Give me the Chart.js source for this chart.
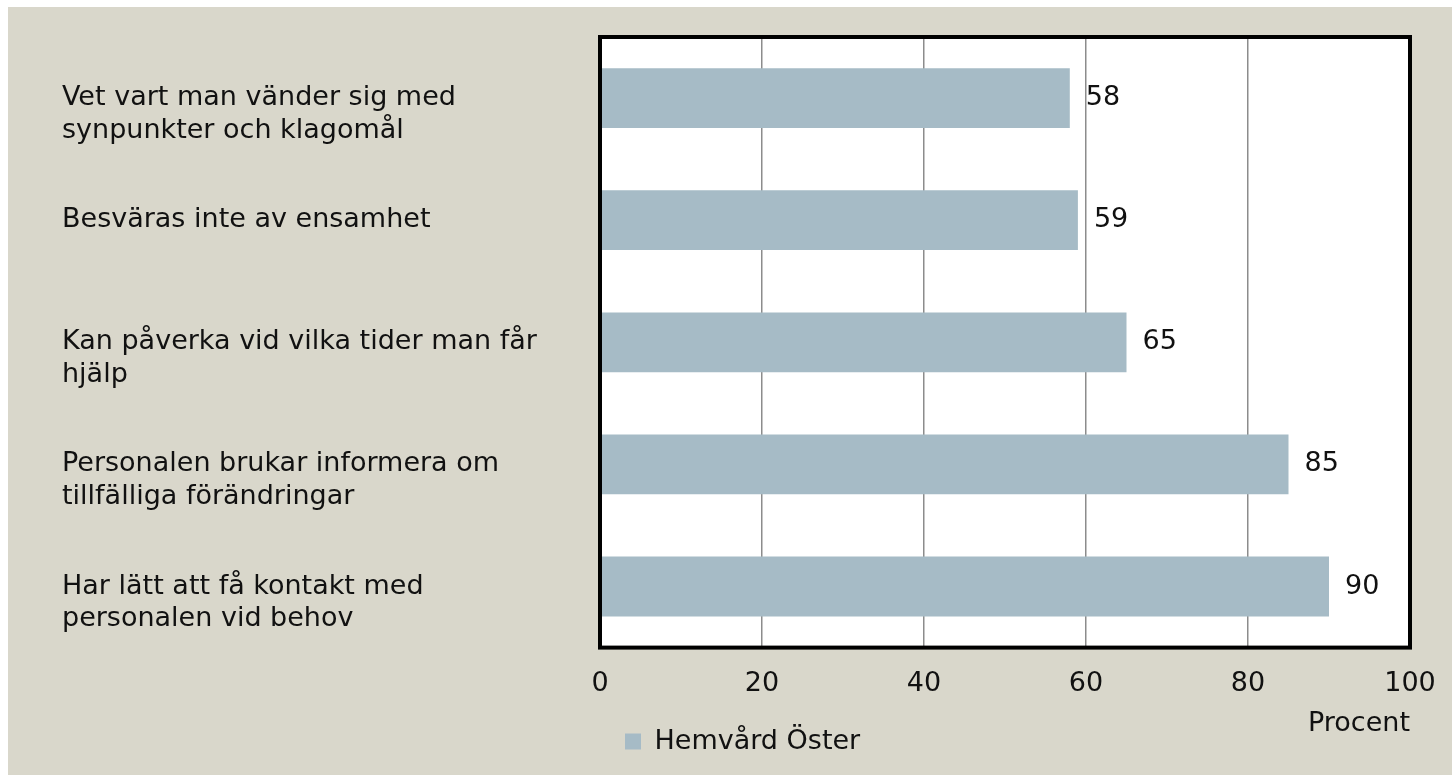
<!DOCTYPE html>
<html lang="sv">
<head>
<meta charset="utf-8">
<title>Hemvård Öster</title>
<script src="https://cdn.jsdelivr.net/npm/chart.js@4.4.1/dist/chart.umd.min.js"></script>
<style>
    html, body { margin: 0; padding: 0; background: #fff; overflow: hidden; }
    #ram { position: absolute; left: 8px; top: 7px; width: 1444px; height: 775px; background: #d9d7cb; }
</style>
</head>
<body>
<div id="ram"><canvas id="diagram"></canvas></div>
<script>
const kategorier = [
    ['Vet vart man vänder sig med', 'synpunkter och klagomål'],
    ['Besväras inte av ensamhet'],
    ['Kan påverka vid vilka tider man får', 'hjälp'],
    ['Personalen brukar informera om', 'tillfälliga förändringar'],
    ['Har lätt att få kontakt med', 'personalen vid behov']
];
const andelar = [58, 59, 65, 85, 90];
const serieNamn = 'Hemvård Öster';
const xSteg = [0, 20, 40, 60, 80, 100];
const xTitel = 'Procent';

const typsnitt = '"DejaVu Sans", sans-serif';
Chart.defaults.font.family = typsnitt;
Chart.defaults.font.size = 27;
Chart.defaults.color = '#111';

// vit plotyta bakom staplarna
const plotBakgrund = {
    id: 'plotBakgrund',
    beforeDraw(chart) {
        const { ctx, chartArea: a } = chart;
        ctx.save();
        ctx.fillStyle = '#fff';
        ctx.fillRect(a.left, a.top, a.right - a.left, a.bottom - a.top);
        ctx.restore();
    }
};

// tjock svart ram runt plotytan
const plotRam = {
    id: 'plotRam',
    afterDraw(chart) {
        const { ctx, chartArea: a } = chart;
        ctx.save();
        ctx.strokeStyle = '#000';
        ctx.lineWidth = 4;
        ctx.strokeRect(a.left, a.top, a.right - a.left, a.bottom - a.top);
        ctx.restore();
    }
};

// värdet till höger om varje stapel
const stapelVarden = {
    id: 'stapelVarden',
    afterDatasetsDraw(chart) {
        const { ctx } = chart;
        const meta = chart.getDatasetMeta(0);
        ctx.save();
        ctx.font = '27px ' + typsnitt;
        ctx.fillStyle = '#111';
        ctx.textAlign = 'left';
        ctx.textBaseline = 'middle';
        meta.data.forEach((bar, i) => {
            ctx.fillText(String(andelar[i]), bar.x + 16, bar.y);
        });
        ctx.restore();
    }
};

new Chart(document.getElementById('diagram'), {
    type: 'bar',
    data: {
        labels: kategorier,
        datasets: [{
            label: serieNamn,
            data: andelar,
            backgroundColor: '#a6bbc6',
            borderWidth: 0,
            categoryPercentage: 1,
            barPercentage: 0.49
        }]
    },
    options: {
        indexAxis: 'y',
        responsive: true,
        maintainAspectRatio: false,
        animation: false,
        layout: { padding: { left: 54, right: 42, top: 30, bottom: 17 } },
        scales: {
            x: {
                min: xSteg[0],
                max: xSteg[xSteg.length - 1],
                afterBuildTicks: (skala) => { skala.ticks = xSteg.map(v => ({ value: v })); },
                afterFit: (skala) => { skala.paddingRight = 0; },
                grid: { color: '#8c8c8c', lineWidth: 1.5, drawTicks: false },
                border: { display: false },
                ticks: { padding: 20, font: { size: 27, lineHeight: 1.2 } },
                title: {
                    display: true,
                    text: xTitel,
                    align: 'end',
                    font: { size: 27, lineHeight: 1 },
                    padding: { top: -10, bottom: -34 }
                }
            },
            y: {
                grid: { display: false },
                border: { display: false },
                afterFit: (skala) => {
                    skala.width = 538;
                    skala.paddingTop = 0;
                    skala.paddingBottom = 0;
                },
                ticks: {
                    autoSkip: false,
                    crossAlign: 'far',
                    font: { size: 27, lineHeight: 1.22 },
                    // första raden i linje med stapelns mitt
                    callback: (v, i) => kategorier[i].length > 1 ? ['', ...kategorier[i]] : kategorier[i]
                }
            }
        },
        plugins: {
            legend: {
                position: 'bottom',
                align: 'start',
                fullSize: false,
                labels: { boxWidth: 16, boxHeight: 16, padding: 25, font: { size: 27 }, color: '#111' }
            },
            tooltip: { enabled: false }
        }
    },
    plugins: [plotBakgrund, plotRam, stapelVarden]
});
</script>
</body>
</html>
